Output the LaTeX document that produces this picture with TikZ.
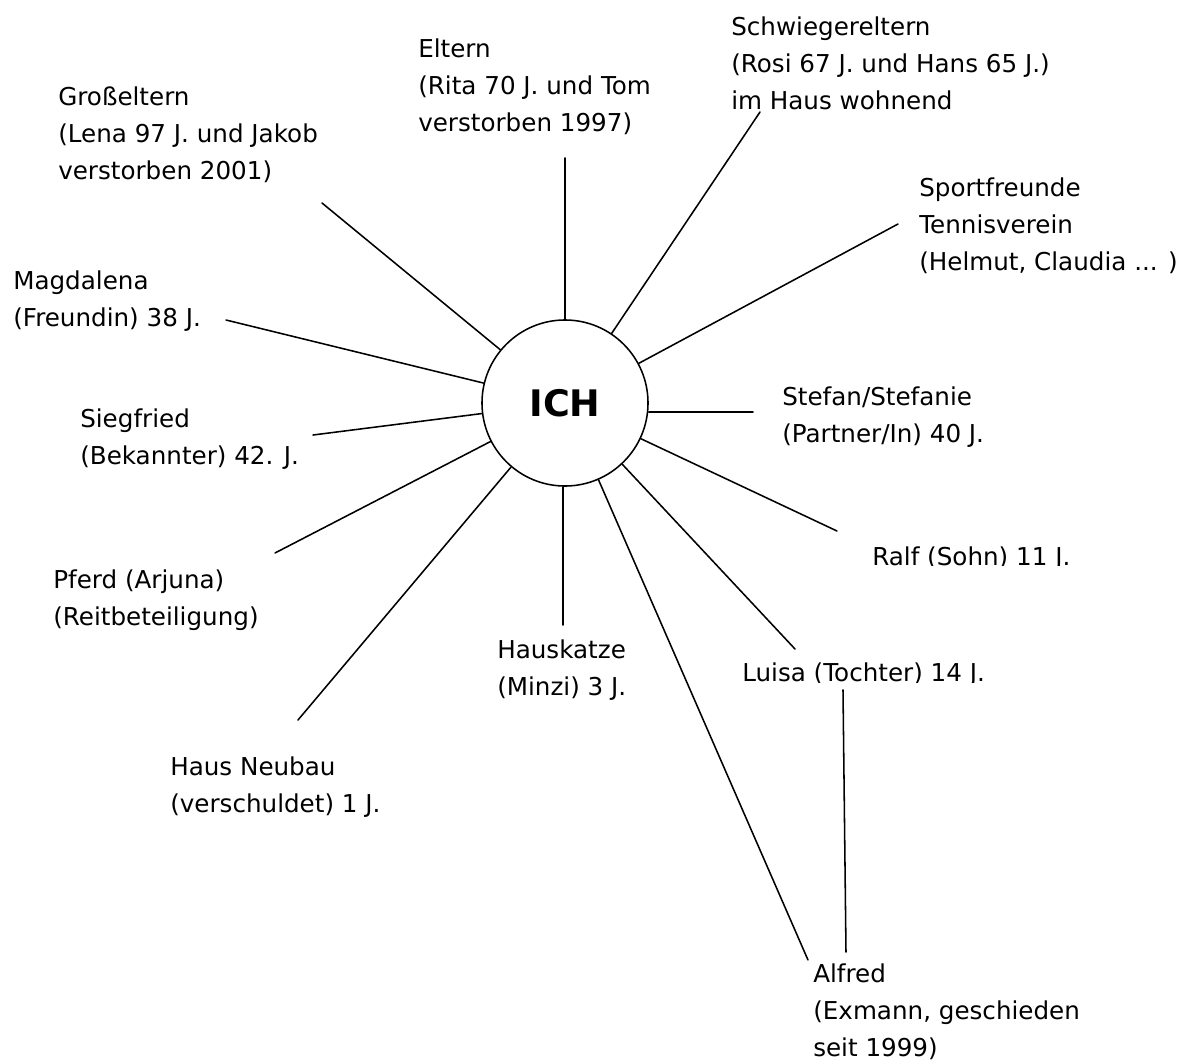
\documentclass[tikz,border=0pt]{standalone}
\usepackage{fontspec}
\setmainfont{DejaVu Sans}
\usepackage{tikz}

\begin{document}
\begin{tikzpicture}[line cap=round,line join=round,x=0.025cm,y=-0.025cm,
  lbl/.style={anchor=base west,align=left,inner sep=0pt,font=\fontsize{17.5}{26.3}\selectfont},
  strahl/.style={line width=1.1pt}]
\useasboundingbox (0,0) rectangle (1180,1060);
\node[draw,circle,line width=1.1pt,minimum size=4.15cm,inner sep=0pt,font=\fontsize{26}{30}\selectfont\bfseries] (ich) at (565,403) {ICH};
% Personen und Dinge rundherum (y = Grundlinie der letzten Zeile)
\node[lbl] (grosseltern) at (58,179) {Großeltern\\(Lena 97 J. und Jakob\\verstorben 2001)};
\node[lbl] (eltern) at (418,131) {Eltern\\(Rita 70 J. und Tom\\verstorben 1997)};
\node[lbl] (schwiegereltern) at (731,109) {Schwiegereltern\\(Rosi 67 J. und Hans 65 J.)\\im Haus wohnend};
\node[lbl] (sportfreunde) at (919,270) {Sportfreunde\\Tennisverein\\(Helmut, Claudia ... )};
\node[lbl] (magdalena) at (13,326) {Magdalena\\(Freundin) 38 J.};
\node[lbl] (stefan) at (782,442) {Stefan/Stefanie\\(Partner/In) 40 J.};
\node[lbl] (siegfried) at (80,464) {Siegfried\\(Bekannter) 42. J.};
\begin{scope}
\clip (0,0) rectangle (1180,565);
\node[lbl] (ralf) at (872,565) {Ralf (Sohn) 11 J.};
\end{scope}
\node[lbl] (pferd) at (53,625) {Pferd (Arjuna)\\(Reitbeteiligung)};
\node[lbl] (hauskatze) at (497,695) {Hauskatze\\(Minzi) 3 J.};
\begin{scope}
\clip (0,0) rectangle (1180,682);
\node[lbl] (luisa) at (742,681) {Luisa (Tochter) 14 J.};
\end{scope}
\node[lbl] (haus) at (170,812) {Haus Neubau\\(verschuldet) 1 J.};
\node[lbl] (alfred) at (813,1056) {Alfred\\(Exmann, geschieden\\seit 1999)};
% freie Enden der Strahlen
\coordinate (g1) at (322,203);
\coordinate (e1) at (565,158);
\coordinate (s1) at (760,112);
\coordinate (sp1) at (898,224);
\coordinate (m1) at (226,320);
\coordinate (st1) at (753,412);
\coordinate (si1) at (313,435);
\coordinate (r1) at (837,531);
\coordinate (p1) at (275,553);
\coordinate (h1) at (563,625);
\coordinate (l1) at (795,649);
\coordinate (hn1) at (298,720);
\coordinate (a1) at (808,960);
\coordinate (l2) at (843,690);
\coordinate (a2) at (846,952);
\foreach \p in {g1,e1,s1,sp1,m1,si1,r1,p1,l1,hn1,a1}
  \draw[strahl] (\p) -- (ich);
\draw[strahl] (st1) -- (st1 -| ich.east);
\draw[strahl] (h1) -- (h1 |- ich.south);
\draw[strahl] (l2) -- (a2);
\end{tikzpicture}
\end{document}
